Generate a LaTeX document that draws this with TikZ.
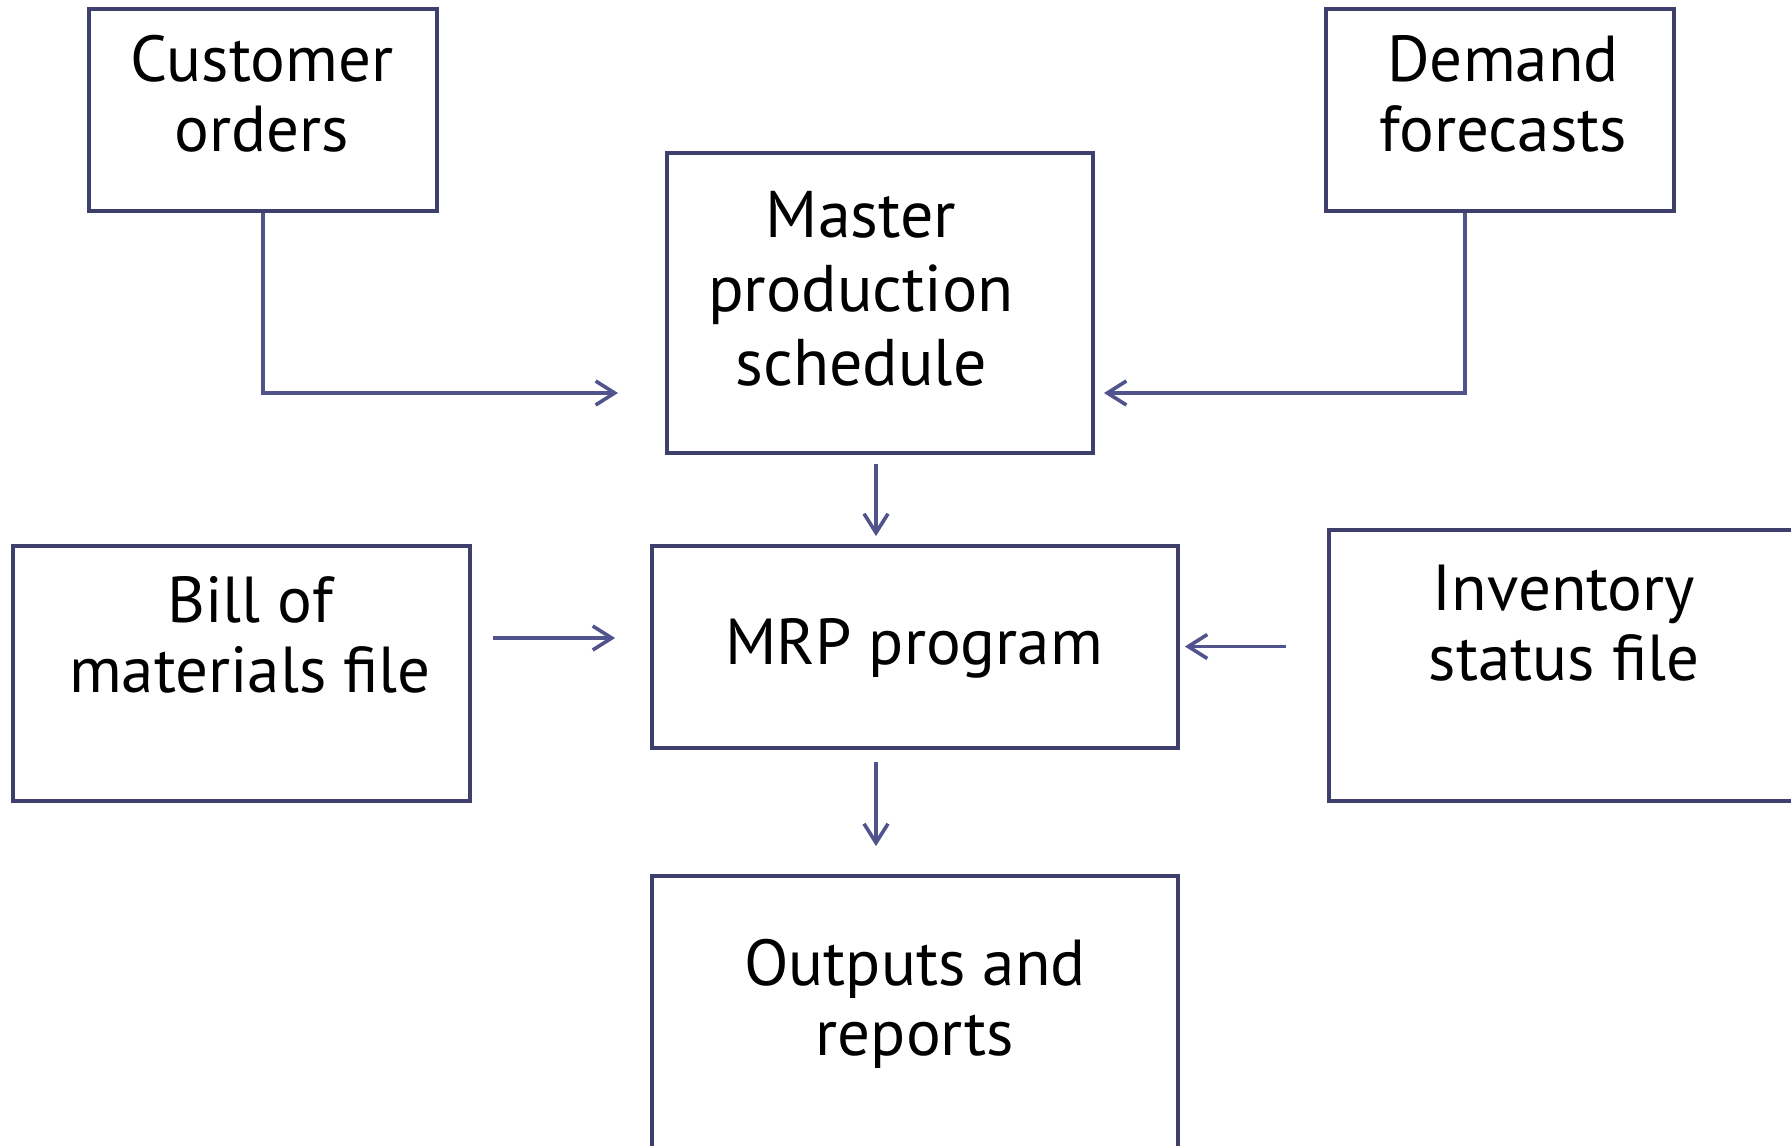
\documentclass[tikz,border=0pt]{standalone}
\usepackage{fontspec}
\setmainfont{PT Sans}
\usetikzlibrary{arrows.meta,calc}

\definecolor{boxline}{RGB}{62,63,108}
\definecolor{flowline}{RGB}{80,83,140}

\begin{document}
\begin{tikzpicture}[x=0.5pt,y=-0.5pt,
  box/.style={draw=boxline, line width=1.9pt, rectangle, inner sep=0pt},
  label/.style={inner sep=0pt, align=center, anchor=base,
    font=\fontsize{32.5pt}{35pt}\selectfont},
  arr/.style={draw=flowline, line width=1.7pt,
    -{Straight Barb[length=9.5pt,width=12pt,line width=1.8pt]}}]

\useasboundingbox (0,0) rectangle (1791,1145);

% boxes
\node[box, minimum width=174pt, minimum height=101pt] (cust) at (263,110) {};
\node[box, minimum width=174pt, minimum height=101pt] (dem) at (1500,110) {};
\node[box, minimum width=213pt, minimum height=150pt] (mps) at (880,303) {};
\node[box, minimum width=228.5pt, minimum height=127.5pt] (bom) at (241.5,673.5) {};
\node[box, minimum width=263pt, minimum height=101pt] (mrp) at (915,647) {};
\node[box, minimum width=235.5pt, minimum height=135.5pt] (inv) at (1564.5,665.5) {};
\node[box, minimum width=263pt, minimum height=142pt] (out) at (915,1018) {};

% texts (placed on the baseline of their last line)
\node[label] (custT) at (262,151) {Customer\\orders};
\node[label] (demT) at (1503,151) {Demand\\forecasts};
\node[label, font=\fontsize{33pt}{37pt}\selectfont] (mpsT) at (861,385) {Master\\production\\schedule};
\node[label] (bomT) at (250,692) {Bill of\\materials file};
\node[label] (mrpT) at (914,664) {MRP program};
\node[label] (invT) at (1564,680) {Inventory\\status file};
\node[label] (outT) at (915,1055) {Outputs and\\reports};

% arrow rows and ends
\coordinate (custIn) at (618,393);
\coordinate (demIn) at (1104,393);
\coordinate (demOut) at ($(dem.south west)!0.4!(dem.south east)$);
\coordinate (bomRow) at (0,638);
\coordinate (invRow) at (0,646.5);
\coordinate (midCol) at (876,0);

% connectors
\draw[arr] (cust.south) |- (custIn);
\draw[arr] (demOut) |- (demIn);
\draw[arr, shorten <=4.5pt, shorten >=4pt] (mps.south -| midCol) -- (mrp.north -| midCol);
\draw[arr, shorten <=6pt, shorten >=14pt] (mrp.south -| midCol) -- (out.north -| midCol);
\draw[arr, shorten <=10.5pt, shorten >=17.5pt] (bom.east |- bomRow) -- (mrp.west |- bomRow);
\draw[arr, shorten <=20.5pt, shorten >=2.5pt] (inv.west |- invRow) -- (mrp.east |- invRow);

\end{tikzpicture}
\end{document}
